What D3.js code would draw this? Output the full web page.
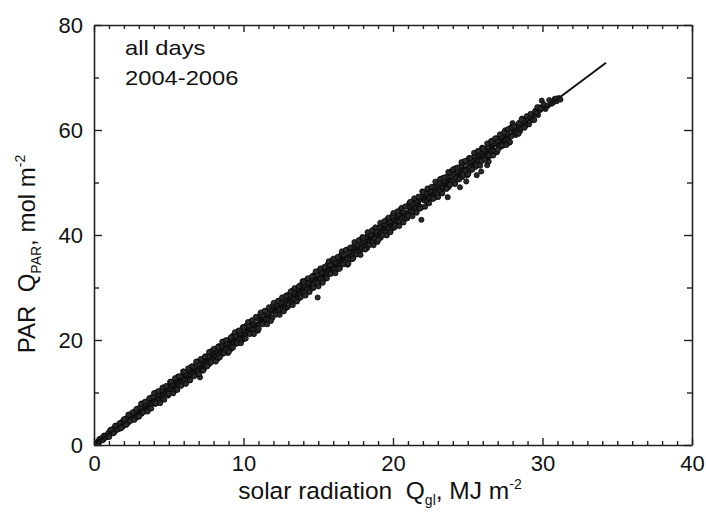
<!DOCTYPE html>
<html><head><meta charset="utf-8">
<script src="https://cdn.jsdelivr.net/npm/d3@7"></script>
<style>
html,body{margin:0;padding:0;background:#fff;}
svg{display:block;font-family:"Liberation Sans",Arial,sans-serif;}
</style></head>
<body><svg id="chart" width="706" height="514"></svg>
<script>
// ---- data ----
const solar = [
0.25,0.32,0.40,0.48,0.55,0.62,0.70,0.78,0.86,0.94,
1.06,1.15,1.24,1.33,1.41,1.50,1.59,1.68,1.78,1.89,
2.04,2.13,2.22,2.31,2.39,2.48,2.57,2.66,2.76,2.87,
3.06,3.15,3.24,3.33,3.41,3.50,3.59,3.68,3.78,3.89,
4.04,4.13,4.22,4.31,4.39,4.48,4.57,4.66,4.76,4.87,
5.06,5.15,5.24,5.33,5.41,5.50,5.59,5.68,5.78,5.89,
6.04,6.13,6.22,6.31,6.39,6.48,6.57,6.66,6.76,6.87,
7.06,7.15,7.24,7.33,7.41,7.50,7.59,7.68,7.78,7.89,
8.04,8.13,8.22,8.31,8.39,8.48,8.57,8.66,8.76,8.87,
9.06,9.15,9.24,9.33,9.41,9.50,9.59,9.68,9.78,9.89,
10.04,10.13,10.22,10.31,10.39,10.48,10.57,10.66,10.76,10.87,
11.06,11.15,11.24,11.33,11.41,11.50,11.59,11.68,11.78,11.89,
12.04,12.13,12.22,12.31,12.39,12.48,12.57,12.66,12.76,12.87,
13.06,13.15,13.24,13.33,13.41,13.50,13.59,13.68,13.78,13.89,
14.04,14.13,14.22,14.31,14.39,14.48,14.57,14.66,14.76,14.87,
15.06,15.15,15.24,15.33,15.41,15.50,15.59,15.68,15.78,15.89,
16.04,16.13,16.22,16.31,16.39,16.48,16.57,16.66,16.76,16.87,
17.06,17.15,17.24,17.33,17.41,17.50,17.59,17.68,17.78,17.89,
18.04,18.13,18.22,18.31,18.39,18.48,18.57,18.66,18.76,18.87,
19.06,19.15,19.24,19.33,19.41,19.50,19.59,19.68,19.78,19.89,
20.04,20.13,20.22,20.31,20.39,20.48,20.57,20.66,20.76,20.87,
21.06,21.15,21.24,21.33,21.41,21.50,21.59,21.68,21.78,21.89,
22.04,22.13,22.22,22.31,22.39,22.48,22.57,22.66,22.76,22.87,
23.06,23.15,23.24,23.33,23.41,23.50,23.59,23.68,23.78,23.89,
24.04,24.13,24.22,24.31,24.39,24.48,24.57,24.66,24.76,24.87,
25.06,25.15,25.24,25.33,25.41,25.50,25.59,25.68,25.78,25.89,
26.04,26.13,26.22,26.31,26.39,26.48,26.57,26.66,26.76,26.87,
27.06,27.15,27.24,27.33,27.41,27.50,27.59,27.68,27.78,27.89,
28.06,28.20,28.35,28.50,28.64,28.78,28.92,
29.10,29.25,29.40,29.55,29.70,29.85,
30.00,30.20,30.45,30.60,30.80,30.95,31.10,31.20,
29.95,28.00,
7.09,14.96,21.90,23.66,24.48,24.90,25.60,25.90,26.30,26.40,
0.29,0.36,0.44,0.51,0.58,0.66,0.74,0.82,0.90,0.97,
1.09,1.18,1.27,1.35,1.44,1.53,1.62,1.71,1.81,1.92,
2.09,2.18,2.27,2.35,2.44,2.53,2.62,2.71,2.81,2.92,
3.09,3.18,3.27,3.35,3.44,3.53,3.62,3.71,3.81,3.92,
4.09,4.18,4.27,4.35,4.44,4.53,4.62,4.71,4.81,4.92,
5.09,5.18,5.27,5.35,5.44,5.53,5.62,5.71,5.81,5.92,
6.09,6.18,6.27,6.35,6.44,6.53,6.62,6.71,6.81,6.92,
7.09,7.18,7.27,7.35,7.44,7.53,7.62,7.71,7.81,7.92,
8.09,8.18,8.27,8.35,8.44,8.53,8.62,8.71,8.81,8.92,
9.09,9.18,9.27,9.35,9.44,9.53,9.62,9.71,9.81,9.92,
10.09,10.18,10.27,10.35,10.44,10.53,10.62,10.71,10.81,10.92,
11.09,11.18,11.27,11.35,11.44,11.53,11.62,11.71,11.81,11.92,
12.09,12.18,12.27,12.35,12.44,12.53,12.62,12.71,12.81,12.92,
13.09,13.18,13.27,13.35,13.44,13.53,13.62,13.71,13.81,13.92,
14.09,14.18,14.27,14.35,14.44,14.53,14.62,14.71,14.81,14.92,
15.09,15.18,15.27,15.35,15.44,15.53,15.62,15.71,15.81,15.92,
16.09,16.18,16.27,16.35,16.44,16.53,16.62,16.71,16.81,16.92,
17.09,17.18,17.27,17.35,17.44,17.53,17.62,17.71,17.81,17.92,
18.09,18.18,18.27,18.35,18.44,18.53,18.62,18.71,18.81,18.92,
19.09,19.18,19.27,19.35,19.44,19.53,19.62,19.71,19.81,19.92,
20.09,20.18,20.27,20.35,20.44,20.53,20.62,20.71,20.81,20.92,
21.09,21.18,21.27,21.35,21.44,21.53,21.62,21.71,21.81,21.92,
22.09,22.18,22.27,22.35,22.44,22.53,22.62,22.71,22.81,22.92,
23.09,23.18,23.27,23.35,23.44,23.53,23.62,23.71,23.81,23.92,
24.09,24.18,24.27,24.35,24.44,24.53,24.62,24.71,24.81,24.92,
25.09,25.18,25.27,25.35,25.44,25.53,25.62,25.71,25.81,25.92,
26.09,26.18,26.27,26.35,26.44,26.53,26.62,26.71,26.81,26.92,
27.09,27.18,27.27,27.35,27.44,27.53,27.62,27.71,27.81,27.92,
28.13,28.28,28.43,28.57,28.71,28.85,
29.18,29.33,29.48,29.62,29.78,
30.10,30.35,30.70,30.90,
1.02,1.15,1.30,1.42,1.58,1.70,1.83,1.96,
2.02,2.15,2.30,2.42,2.58,2.70,2.83,2.96,
3.02,3.15,3.30,3.42,3.58,3.70,3.83,3.96,
4.02,4.15,4.30,4.42,4.58,4.70,4.83,4.96,
5.02,5.15,5.30,5.42,5.58,5.70,5.83,5.96,
6.02,6.15,6.30,6.42,6.58,6.70,6.83,6.96,
7.02,7.15,7.30,7.42,7.58,7.70,7.83,7.96,
8.02,8.15,8.30,8.42,8.58,8.70,8.83,8.96,
9.02,9.15,9.30,9.42,9.58,9.70,9.83,9.96,
10.02,10.15,10.30,10.42,10.58,10.70,10.83,10.96,
11.02,11.15,11.30,11.42,11.58,11.70,11.83,11.96,
12.02,12.15,12.30,12.42,12.58,12.70,12.83,12.96,
13.02,13.15,13.30,13.42,13.58,13.70,13.83,13.96,
14.02,14.15,14.30,14.42,14.58,14.70,14.83,14.96,
15.02,15.15,15.30,15.42,15.58,15.70,15.83,15.96,
16.02,16.15,16.30,16.42,16.58,16.70,16.83,16.96,
17.02,17.15,17.30,17.42,17.58,17.70,17.83,17.96,
18.02,18.15,18.30,18.42,18.58,18.70,18.83,18.96,
19.02,19.15,19.30,19.42,19.58,19.70,19.83,19.96,
20.02,20.15,20.30,20.42,20.58,20.70,20.83,20.96,
21.02,21.15,21.30,21.42,21.58,21.70,21.83,21.96,
22.02,22.15,22.30,22.42,22.58,22.70,22.83,22.96,
23.02,23.15,23.30,23.42,23.58,23.70,23.83,23.96,
24.02,24.15,24.30,24.42,24.58,24.70,24.83,24.96,
25.02,25.15,25.30,25.42,25.58,25.70,25.83,25.96,
26.02,26.15,26.30,26.42,26.58,26.70,26.83,26.96,
27.02,27.15,27.30,27.42,27.58,27.70,27.83,27.96,
28.10,28.40,28.60,28.80,28.95,
29.20,29.45,29.65,29.90
];
const par = [
0.65,0.53,1.10,0.97,1.25,1.07,1.69,1.56,1.86,1.82,
2.07,2.75,2.58,2.92,2.70,3.43,3.26,3.60,3.57,4.17,
4.68,4.46,4.82,4.57,5.35,5.13,5.49,5.42,6.04,5.90,
6.43,6.82,6.50,7.39,7.10,7.48,7.36,8.01,7.81,8.66,
8.72,8.35,9.31,8.99,9.37,9.22,9.94,9.65,10.55,10.26,
10.28,11.33,10.95,11.38,11.17,11.93,11.59,12.56,12.19,12.66,
13.26,12.82,13.27,13.06,13.85,13.47,14.49,14.06,14.53,14.09,
14.78,15.26,14.99,15.86,15.41,16.52,16.03,16.50,15.97,17.22,
17.15,16.85,17.79,17.30,18.45,17.91,18.40,17.80,19.11,18.62,
18.80,19.78,19.25,20.50,19.88,20.40,19.73,21.10,20.53,21.10,
21.70,21.12,22.43,21.78,22.30,21.58,23.03,22.38,22.95,22.62,
23.06,24.46,23.75,24.31,23.51,25.05,24.34,24.90,24.52,25.65,
26.39,25.63,26.22,25.38,26.97,26.21,26.80,26.37,27.53,26.89,
27.60,28.21,27.31,29.01,28.18,28.78,28.31,29.50,28.80,30.37,
30.11,29.16,30.93,30.07,30.68,30.16,31.42,30.64,32.26,31.43,
31.09,32.95,32.03,32.68,32.11,33.41,32.58,34.27,33.36,34.06,
34.88,33.90,34.58,34.00,35.34,34.46,36.20,35.23,35.92,34.90,
35.86,36.56,35.94,37.35,36.40,38.23,37.20,37.89,36.78,38.84,
38.46,37.80,39.27,38.29,40.16,39.08,39.80,38.61,40.73,39.70,
39.75,41.26,40.24,42.20,41.05,41.79,40.55,42.72,41.61,42.40,
43.19,42.11,44.14,42.95,43.70,42.39,44.65,43.46,44.26,43.56,
44.05,46.17,44.92,45.71,44.32,46.67,45.42,46.21,45.46,47.14,
48.10,46.80,47.61,46.19,48.59,47.29,48.10,47.31,49.01,47.88,
48.77,49.61,48.12,50.63,49.26,50.09,49.25,50.98,49.79,52.08,
51.51,49.97,52.55,51.15,51.98,51.11,52.91,51.63,53.97,52.60,
51.90,54.57,53.11,53.99,53.06,54.90,53.57,55.98,54.53,55.45,
56.50,54.98,55.88,54.95,56.82,55.45,57.91,56.40,57.32,55.71,
56.94,57.87,56.88,58.83,57.39,59.94,58.37,59.29,57.59,60.46,
59.79,59.04,60.92,59.81,62.19,60.93,61.87,
61.07,62.79,62.00,63.72,62.84,63.86,
64.40,64.00,65.70,65.00,65.90,65.50,66.10,65.80,
65.60,61.30,
12.90,28.10,42.90,47.20,49.10,50.20,51.40,52.10,53.30,54.00,
0.40,1.13,0.82,1.32,0.91,1.80,1.37,1.82,1.55,2.34,
2.86,2.33,3.06,2.39,3.66,2.95,3.56,3.10,4.27,3.48,
4.20,5.12,4.19,5.80,4.79,5.54,4.85,6.32,5.17,6.93,
7.17,5.96,7.95,6.62,7.51,6.61,8.40,6.89,9.00,8.03,
7.82,9.99,8.53,9.47,8.45,10.40,8.72,11.00,9.90,11.12,
12.02,10.41,11.44,10.29,12.41,10.56,13.03,11.78,13.07,11.63,
12.35,13.38,12.25,14.34,12.49,14.96,13.71,14.99,13.52,15.91,
15.31,14.19,16.30,14.43,16.90,15.65,16.92,15.43,17.80,16.24,
16.12,18.23,16.38,18.83,17.58,18.86,17.37,19.72,18.13,19.20,
20.17,18.32,20.79,19.52,20.79,19.30,21.65,20.04,21.10,20.01,
20.25,22.72,21.47,22.72,21.24,23.59,21.98,23.01,21.90,24.06,
24.66,23.41,24.68,23.17,25.52,23.91,24.94,23.82,25.95,24.14,
25.34,26.62,25.13,27.46,25.85,26.88,25.75,27.86,26.03,28.55,
28.55,27.06,29.41,27.78,28.81,27.69,29.80,27.95,30.44,29.23,
29.00,31.35,29.74,30.75,29.62,31.73,29.88,32.35,31.13,32.44,
33.33,31.64,32.71,31.50,33.71,31.77,34.34,33.02,34.36,32.85,
33.58,34.65,33.46,35.64,33.70,36.27,34.95,36.28,34.74,37.22,
36.58,35.40,37.60,35.64,38.21,36.89,38.21,36.65,39.11,37.47,
37.29,39.56,37.54,40.18,38.81,40.18,38.55,41.08,39.34,40.48,
41.50,39.48,42.14,40.75,42.11,40.48,43.01,41.25,42.38,41.18,
41.41,44.07,42.70,44.04,42.42,44.95,43.19,44.29,43.07,45.39,
46.01,44.64,46.00,44.35,46.88,45.12,46.22,44.99,47.28,45.30,
46.57,47.94,46.31,48.82,47.06,48.16,46.92,49.19,47.19,49.90,
49.87,48.24,50.77,48.99,50.09,48.86,51.13,49.11,51.79,50.46,
50.18,52.71,50.95,52.03,50.79,53.06,51.04,53.70,52.36,53.76,
54.64,52.88,53.98,52.72,55.00,52.98,55.64,54.27,55.65,54.07,
54.87,55.90,54.77,56.86,55.01,57.48,56.23,57.51,56.04,58.43,
57.81,56.80,58.75,57.05,59.33,58.20,59.38,58.03,60.22,58.81,
60.30,59.42,61.34,60.34,61.74,60.74,
62.34,61.86,63.47,63.17,64.31,
64.90,64.60,65.20,66.00,
1.54,2.91,2.23,3.65,2.94,4.14,3.22,4.73,
4.95,3.82,5.79,4.55,6.24,4.79,6.82,5.39,
5.44,7.87,6.24,8.25,6.37,8.91,6.97,9.27,
9.90,7.92,10.27,7.97,10.94,8.64,11.25,9.42,
9.77,12.08,9.84,12.72,10.51,13.10,11.27,14.02,
13.93,11.65,14.59,12.30,14.97,13.11,15.87,13.90,
13.50,16.40,14.17,16.76,14.99,17.72,15.75,18.05,
18.33,15.89,18.69,16.70,19.68,17.54,19.97,17.53,
17.74,20.49,18.57,21.47,19.41,21.82,19.38,22.46,
22.41,20.30,23.43,21.13,23.77,21.13,24.39,21.77,
22.15,25.24,23.00,25.56,23.00,26.23,23.62,26.54,
27.09,24.81,27.43,24.79,28.11,25.47,28.39,26.27,
26.66,29.24,26.66,29.89,27.34,30.24,28.12,31.21,
31.09,28.46,31.76,29.13,32.11,29.97,33.06,30.79,
30.22,33.65,30.91,33.95,31.77,35.00,32.58,35.28,
35.50,32.72,35.82,33.56,36.87,34.42,37.13,34.35,
34.57,37.63,35.43,38.66,36.30,38.98,36.20,39.62,
39.48,37.24,40.53,38.08,40.85,38.05,41.47,38.69,
39.09,42.33,39.95,42.64,39.92,43.32,40.54,43.61,
44.18,41.76,44.51,41.70,45.19,42.39,45.46,43.21,
43.61,46.32,43.57,46.98,44.26,47.30,45.06,48.31,
48.17,45.38,48.85,46.05,49.18,46.91,50.16,47.73,
47.23,50.66,47.92,50.96,48.78,52.01,49.58,52.29,
52.51,49.72,52.83,50.57,53.88,51.43,54.14,51.36,
51.57,54.64,52.44,55.66,53.30,55.99,53.21,56.63,
56.43,54.32,57.44,55.15,57.79,55.14,58.40,55.79,
56.25,59.16,57.08,59.50,57.12,60.17,57.73,60.48,
60.74,59.28,62.00,60.43,62.65,
63.08,61.91,64.34,64.07
];
// regression line end points
const fitX = [0, 34.25];
const fitY = [0, 72.8];
const xMajor = [0, 10, 20, 30, 40];
const yMajor = [0, 20, 40, 60, 80];
const notes = ["all days", "2004-2006"];

// ---- drawing ----
const svg = d3.select("#chart");
const L = 94, R = 692, T = 25, B = 445;
const x = d3.scaleLinear().domain([0, 40]).range([L, R]);
const y = d3.scaleLinear().domain([0, 80]).range([B, T]);
const font = '"Liberation Sans",Arial,sans-serif';

// points
svg.append("g").selectAll("circle").data(solar.map((v, i) => [v, par[i]]))
  .join("circle")
  .attr("cx", d => x(d[0])).attr("cy", d => y(d[1]))
  .attr("r", 2.6).attr("fill", "#2a2a2a").attr("stroke", "#000").attr("stroke-width", 0.7);

// fit line
svg.append("path")
  .datum(fitX.map((v, i) => [v, fitY[i]]))
  .attr("d", d3.line().x(d => x(d[0])).y(d => y(d[1])))
  .attr("stroke", "#111").attr("stroke-width", 2).attr("fill", "none");

const xMinor = d3.range(0, 41, 1).filter(v => v % 10 !== 0);
const yMinor = d3.range(0, 81, 10).filter(v => v % 20 !== 0);

function styleAxis(g) {
  g.selectAll("path").attr("stroke", "#222").attr("stroke-width", 1.6);
  g.selectAll("line").attr("stroke", "#222").attr("stroke-width", 1.4);
  g.selectAll("text").attr("font-family", font).attr("font-size", 22).attr("fill", "#111");
}
// bottom
const gb = svg.append("g").attr("transform", `translate(0,${B})`)
  .call(d3.axisBottom(x).tickValues(xMajor).tickSizeInner(-7).tickSizeOuter(0).tickPadding(10).tickFormat(d3.format("d")));
styleAxis(gb);
const gbm = svg.append("g").attr("transform", `translate(0,${B})`)
  .call(d3.axisBottom(x).tickValues(xMinor).tickSize(-4).tickFormat(""));
styleAxis(gbm); gbm.select("path").remove();
// top
const gt = svg.append("g").attr("transform", `translate(0,${T})`)
  .call(d3.axisTop(x).tickValues(xMajor).tickSizeInner(-7).tickSizeOuter(0).tickFormat(""));
styleAxis(gt);
const gtm = svg.append("g").attr("transform", `translate(0,${T})`)
  .call(d3.axisTop(x).tickValues(xMinor).tickSize(-4).tickFormat(""));
styleAxis(gtm); gtm.select("path").remove();
// left
const gl = svg.append("g").attr("transform", `translate(${L},0)`)
  .call(d3.axisLeft(y).tickValues(yMajor).tickSizeInner(-8).tickSizeOuter(0).tickPadding(11).tickFormat(d3.format("d")));
styleAxis(gl);
const glm = svg.append("g").attr("transform", `translate(${L},0)`)
  .call(d3.axisLeft(y).tickValues(yMinor).tickSize(-5).tickFormat(""));
styleAxis(glm); glm.select("path").remove();
// right
const gr = svg.append("g").attr("transform", `translate(${R},0)`)
  .call(d3.axisRight(y).tickValues(yMajor).tickSizeInner(-8).tickSizeOuter(0).tickFormat(""));
styleAxis(gr);
const grm = svg.append("g").attr("transform", `translate(${R},0)`)
  .call(d3.axisRight(y).tickValues(yMinor).tickSize(-5).tickFormat(""));
styleAxis(grm); grm.select("path").remove();

// annotation
svg.append("g").selectAll("text").data(notes).join("text")
  .attr("transform", (d, i) => `translate(125,${55 + i * 30}) scale(1.13,1)`)
  .attr("font-family", font).attr("font-size", 21).attr("fill", "#111")
  .text(d => d);

// x title
const xt = svg.append("text").attr("x", 380).attr("y", 499).attr("text-anchor", "middle")
  .attr("font-family", font).attr("font-size", 24.5).attr("fill", "#111");
xt.append("tspan").text("solar radiation\u00a0\u00a0Q");
xt.append("tspan").attr("font-size", 14).attr("dy", 6).text("gl");
xt.append("tspan").attr("dy", -6).text(", MJ m");
xt.append("tspan").attr("font-size", 14).attr("dy", -10).text("-2");

// y title
const yt = svg.append("text").attr("transform", "translate(35,254) rotate(-90)").attr("text-anchor", "middle")
  .attr("font-family", font).attr("font-size", 24).attr("fill", "#111");
yt.append("tspan").text("PAR\u00a0\u00a0Q");
yt.append("tspan").attr("font-size", 14).attr("dy", 6).text("PAR");
yt.append("tspan").attr("dy", -6).text(", mol m");
yt.append("tspan").attr("font-size", 14).attr("dy", -10).text("-2");
</script></body></html>
